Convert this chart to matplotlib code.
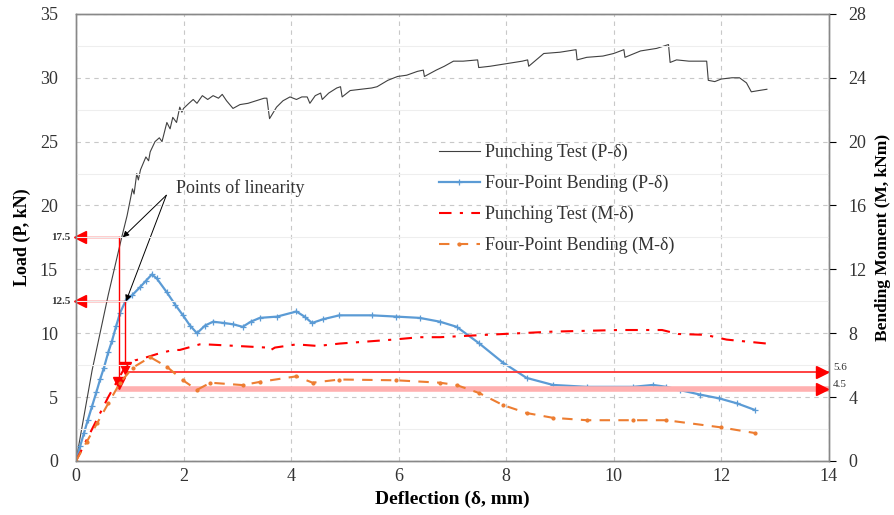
import matplotlib
matplotlib.use("Agg")
import matplotlib.pyplot as plt
import numpy as np

plt.rcParams['font.family'] = ['Liberation Serif', 'DejaVu Serif']

# Punching Test (P-delta), left axis, kN
punch_p_x = [0, 0.3, 0.6, 0.85, 0.95, 1.05, 1.08, 1.13, 1.16, 1.2, 1.3, 1.35, 1.38, 1.47, 1.55, 1.6,
             1.69, 1.75, 1.8, 1.87, 1.93, 1.97, 2.0, 2.1, 2.18, 2.25, 2.35, 2.45, 2.55, 2.65, 2.72,
             2.8, 2.92, 3.05, 3.2, 3.35, 3.5, 3.55, 3.6, 3.73, 3.85, 3.98, 4.1, 4.2, 4.3, 4.35,
             4.45, 4.55, 4.58, 4.7, 4.85, 4.92, 4.95, 5.1, 5.3, 5.5, 5.6, 5.8, 5.98, 6.15, 6.35,
             6.46, 6.48, 6.7, 6.85, 7.02, 7.2, 7.47, 7.49, 7.7, 8.0, 8.3, 8.4, 8.42, 8.7, 9.0,
             9.3, 9.32, 9.5, 9.8, 10.0, 10.19, 10.21, 10.5, 10.8, 11.02, 11.05, 11.17, 11.4,
             11.73, 11.76, 11.88, 12.0, 12.2, 12.34, 12.47, 12.56, 12.7, 12.85]
punch_p_y = [0, 7.1, 13.0, 17.5, 19.2, 21.3, 20.9, 22.5, 22.0, 22.8, 23.8, 23.5, 24.2, 25.0, 25.3, 25.0,
             26.5, 26.0, 26.9, 26.5, 27.7, 27.3, 27.6, 28.0, 28.3, 28.0, 28.6, 28.3, 28.6, 28.4, 28.7,
             28.2, 27.6, 27.9, 28.0, 28.2, 28.4, 28.4, 26.8, 27.7, 28.2, 28.5, 28.3, 28.5, 28.5, 28.0,
             28.6, 28.8, 28.3, 28.8, 29.2, 29.3, 28.5, 29.0, 29.1, 29.2, 29.3, 29.8, 30.1, 30.2, 30.5,
             30.6, 30.1, 30.6, 30.9, 31.3, 31.3, 31.4, 30.8, 30.9, 31.1, 31.3, 31.4, 30.9, 31.9, 32.0,
             32.2, 31.4, 31.6, 31.7, 31.9, 32.2, 31.6, 32.1, 32.3, 32.6, 31.2, 31.4, 31.3,
             31.3, 29.8, 29.7, 29.9, 30.0, 30.0, 29.6, 28.9, 29.0, 29.1]

# Four-Point Bending (P-delta), left axis, kN
four_p_x = [0, 0.08, 0.15, 0.22, 0.3, 0.38, 0.45, 0.52, 0.6, 0.67, 0.75, 0.82, 0.92, 1.05, 1.19, 1.3,
            1.41, 1.5, 1.69, 1.85, 1.99, 2.12, 2.25, 2.4, 2.55, 2.75, 2.92, 3.1, 3.25, 3.42, 3.74,
            4.1, 4.25, 4.39, 4.6, 4.9, 5.5, 5.96, 6.39, 6.77, 7.08, 7.5, 7.94, 8.38, 8.87, 9.5,
            10.36, 10.73, 10.98, 11.23, 11.6, 11.96, 12.3, 12.62]
four_p_y = [0, 1.2, 2.2, 3.2, 4.3, 5.4, 6.4, 7.3, 8.5, 9.4, 10.6, 11.6, 12.5, 13.0, 13.6, 14.1,
            14.6, 14.3, 13.2, 12.2, 11.4, 10.6, 10.0, 10.6, 10.9, 10.8, 10.7, 10.5, 10.9, 11.2, 11.3,
            11.7, 11.3, 10.8, 11.1, 11.4, 11.4, 11.3, 11.2, 10.9, 10.5, 9.2, 7.7, 6.5, 5.95, 5.8,
            5.8, 5.95, 5.8, 5.55, 5.2, 4.9, 4.5, 4.0]

# Punching Test (M-delta), right axis, kNm
punch_m_x = [0, 0.3, 0.6, 0.9, 1.1, 1.32, 1.56, 1.81, 1.93, 2.3, 2.42, 3.0, 3.55, 3.6, 3.7, 4.1,
             4.5, 4.9, 5.5, 5.9, 6.39, 6.77, 7.64, 8.87, 10.1, 10.9, 11.2, 11.7, 12.1, 12.85]
punch_m_y = [0, 2.0, 4.0, 5.8, 6.3, 6.5, 6.75, 6.95, 6.95, 7.3, 7.3, 7.2, 7.1, 6.9, 7.1, 7.3,
             7.2, 7.35, 7.5, 7.6, 7.75, 7.75, 7.9, 8.1, 8.2, 8.2, 7.95, 7.9, 7.6, 7.35]

# Four-Point Bending (M-delta), right axis, kNm
four_m_x = [0, 0.2, 0.4, 0.6, 0.82, 1.06, 1.38, 1.69, 1.99, 2.25, 2.5, 3.1, 3.42, 4.1, 4.4, 4.9,
            5.96, 6.77, 7.08, 7.5, 7.94, 8.38, 8.87, 9.5, 10.36, 10.98, 12.0, 12.62]
four_m_y = [0, 1.2, 2.4, 3.6, 4.9, 5.85, 6.5, 5.9, 5.05, 4.45, 4.9, 4.75, 4.95, 5.3, 4.9, 5.1,
            5.05, 4.9, 4.75, 4.25, 3.5, 3.0, 2.7, 2.55, 2.55, 2.55, 2.1, 1.75]

# points of linearity (load) and corresponding moments
lin_x = [0.80, 0.92]
lin_p = [17.5, 12.5]
lin_m = [4.5, 5.6]

fig = plt.figure(figsize=(8.94, 5.15), dpi=100)
ax = fig.add_axes([0.085, 0.105, 0.842, 0.868])
ax2 = ax.twinx()

ax.set_xlim(0, 14)
ax.set_ylim(0, 35)
ax2.set_ylim(0, 28)
ax.set_xticks(np.arange(0, 15, 2))
ax.set_yticks(np.arange(0, 36, 5))
ax2.set_yticks(np.arange(0, 29, 4))
ax2.set_yticks(np.arange(2, 28, 4), minor=True)

grid_kw = dict(color='#c8c8c8', lw=0.8, ls=(0, (4, 4)))
ax.grid(True, which='major', **grid_kw)
ax2.yaxis.grid(True, which='minor', color='#eeeeee', lw=0.8)
ax.set_axisbelow(True)

for a in (ax, ax2):
    for s in a.spines.values():
        s.set_color('#888888')
        s.set_linewidth(1.0)
ax.tick_params(axis='y', length=0, pad=13, labelsize=13)
ax.tick_params(axis='x', length=0, pad=5, labelsize=13)
ax2.tick_params(axis='y', which='major', length=5, pad=9, labelsize=13)
ax2.tick_params(axis='y', which='minor', length=0)
for lab in ax.get_xticklabels() + ax.get_yticklabels() + ax2.get_yticklabels():
    lab.set_color('#333333')

l1, = ax.plot(punch_p_x, punch_p_y, color='#404040', lw=0.8, label='Punching Test (P-δ)')
l2, = ax.plot(four_p_x, four_p_y, color='#5b9bd5', lw=1.6, marker='+', ms=5, mew=0.9,
              label='Four-Point Bending (P-δ)')
l3, = ax2.plot(punch_m_x, punch_m_y, color='#ff0000', lw=1.5, ls=(0, (6, 4, 1.5, 4)),
               label='Punching Test (M-δ)')
l4, = ax2.plot(four_m_x, four_m_y, color='#ed7d31', lw=1.5, ls=(0, (5, 4)), marker='o', ms=2,
               label='Four-Point Bending (M-δ)')

# red reference lines (drawn in left-axis units)
m_to_p = 35 / 28
ax.plot([lin_x[0], lin_x[0]], [lin_p[0], lin_m[0] * m_to_p], color='#ff0000', lw=1.0)
ax.plot([lin_x[1], lin_x[1]], [lin_p[1], lin_m[1] * m_to_p], color='#ff0000', lw=1.0)
ax.plot([0, lin_x[0]], [lin_p[0], lin_p[0]], color='#ff0000', lw=1.0)
ax.plot([0, lin_x[1]], [lin_p[1], lin_p[1]], color='#ff0000', lw=1.0)
ax.plot([lin_x[1], 14], [lin_m[1] * m_to_p] * 2, color='#ff3333', lw=1.3)
ax.plot([lin_x[0], 14], [lin_m[0] * m_to_p] * 2, color='#ffb0b0', lw=4)
ax.plot([0.08, 0.08], lin_p, ls='none', marker='<', ms=8, color='#ff0000', clip_on=False)
ax.plot([13.88, 13.88], [m * m_to_p for m in lin_m], ls='none', marker='>', ms=9,
        color='#ff0000', clip_on=False, zorder=5)
ax.plot(lin_x, [6.1, 7.3], ls='none', marker='v', ms=8, color='#ff0000', zorder=5)

for p in lin_p:
    ax.annotate(f'{p}', xy=(0, p), xycoords=('axes fraction', 'data'), xytext=(-4, 0),
                textcoords='offset points', ha='right', va='center', fontsize=8,
                fontweight='bold', color='#333333')
for m in lin_m:
    ax2.annotate(f'{m}', xy=(1, m), xycoords=('axes fraction', 'data'), xytext=(3, 3),
                 textcoords='offset points', ha='left', va='center', fontsize=8,
                 color='#333333')

# points of linearity annotation
ax.text(1.86, 21.4, 'Points of linearity', fontsize=13, va='center', ha='left', color='#333333')
for px, py in [(0.87, 17.5), (0.93, 12.5)]:
    ax.annotate('', xy=(px, py), xytext=(1.68, 20.8),
                arrowprops=dict(arrowstyle='-|>', color='black', lw=0.7,
                                mutation_scale=9, shrinkA=0, shrinkB=0))

ax.set_xlabel('Deflection (δ, mm)', fontsize=14, fontweight='bold', labelpad=4)
ax.set_ylabel('Load (P, kN)', fontsize=13, fontweight='bold', labelpad=6)
ax2.set_ylabel('Bending Moment (M, kNm)', fontsize=12.5, fontweight='bold', labelpad=6)

leg = ax2.legend(handles=[l1, l2, l3, l4], loc='upper left', bbox_to_anchor=(0.46, 0.745),
                 frameon=False, fontsize=13, handlelength=2.3, handletextpad=0.3,
                 labelspacing=0.75)
for t in leg.get_texts():
    t.set_color('#333333')

fig.savefig('out.png', dpi=100, facecolor='white')
